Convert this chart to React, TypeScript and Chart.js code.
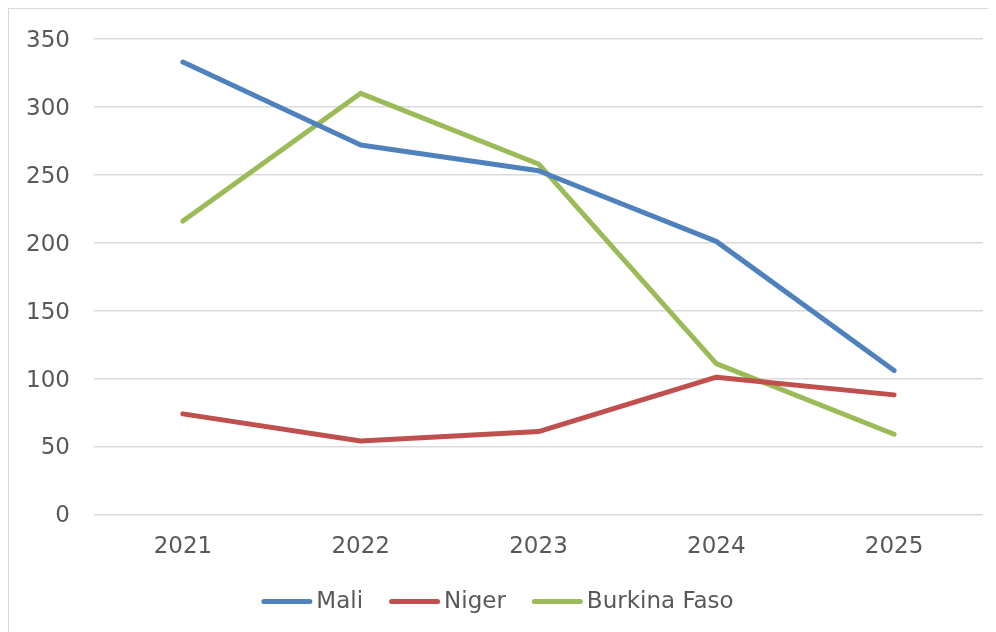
import React, { useEffect, useRef } from "react";
import { Chart, registerables } from "chart.js";

Chart.register(...registerables);

const years = ["2021", "2022", "2023", "2024", "2025"];
const mali = [333, 272, 253, 201, 106];
const niger = [74, 54, 61, 101, 88];
const burkina = [216, 310, 258, 111, 59];
const yTicks = [0, 50, 100, 150, 200, 250, 300, 350];

const FONT = "'DejaVu Sans', Verdana, sans-serif";
const TEXT = "#595959";
const FS = 23;

const legendPlugin = {
  id: "bottomLegend",
  afterDraw(chart: any) {
    const ctx = chart.ctx;
    const items = chart.data.datasets.map((d: any) => ({
      label: d.label as string,
      color: d.borderColor as string,
    }));
    ctx.save();
    ctx.font = `${FS}px ${FONT}`;
    const lineLen = 46;
    const cap = 2.5;
    const gap = 4;
    const spacing = 26;
    const widths = items.map((it: any) => ctx.measureText(it.label).width);
    let total = 0;
    items.forEach((_: any, i: number) => {
      total += lineLen + cap * 2 + gap + widths[i];
      if (i < items.length - 1) total += spacing;
    });
    let x = chart.width / 2 - 5 - total / 2;
    const y = chart.height - 20.5;
    items.forEach((it: any, i: number) => {
      ctx.strokeStyle = it.color;
      ctx.lineWidth = 5;
      ctx.lineCap = "round";
      ctx.beginPath();
      ctx.moveTo(x + cap, y);
      ctx.lineTo(x + cap + lineLen, y);
      ctx.stroke();
      x += lineLen + cap * 2 + gap;
      ctx.fillStyle = TEXT;
      ctx.textAlign = "left";
      ctx.textBaseline = "middle";
      ctx.fillText(it.label, x, y + 1);
      x += widths[i] + spacing;
    });
    ctx.restore();
  },
};

export default function App() {
  const ref = useRef<HTMLCanvasElement | null>(null);

  useEffect(() => {
    if (!ref.current) return;
    const mk = (label: string, data: number[], color: string) => ({
      label,
      data,
      borderColor: color,
      backgroundColor: color,
      borderWidth: 5,
      borderCapStyle: "round" as const,
      borderJoinStyle: "round" as const,
      pointRadius: 0,
      pointHoverRadius: 0,
      tension: 0,
      fill: false,
    });
    const chart = new Chart(ref.current, {
      type: "line",
      data: {
        labels: years,
        datasets: [
          mk("Mali", mali, "#4F81BD"),
          mk("Niger", niger, "#C0504D"),
          mk("Burkina Faso", burkina, "#9BBB59"),
        ],
      },
      plugins: [legendPlugin],
      options: {
        animation: false,
        responsive: false,
        layout: { padding: { left: 0, right: 13, top: 30, bottom: 50 } },
        plugins: {
          tooltip: { enabled: false },
          legend: { display: false },
        },
        scales: {
          x: {
            offset: true,
            grid: { display: false },
            border: { display: false },
            ticks: {
              color: TEXT,
              font: { family: FONT, size: FS },
              padding: 11,
              maxRotation: 0,
            },
          },
          y: {
            min: 0,
            max: 350,
            afterBuildTicks: (scale: any) => {
              scale.ticks = yTicks.map((v) => ({ value: v }));
            },
            afterFit: (scale: any) => {
              scale.width = 85;
              scale.paddingTop = 0;
              scale.paddingBottom = 0;
            },
            grid: { color: "#d9d9d9", lineWidth: 1.5, drawTicks: false },
            border: { display: false },
            ticks: {
              color: TEXT,
              font: { family: FONT, size: FS },
              padding: 24,
              labelOffset: 2,
            },
          },
        },
      },
    });
    return () => chart.destroy();
  }, []);

  return (
    <div
      style={{
        position: "relative",
        width: 1000,
        height: 640,
        border: "1.5px solid #d9d9d9",
        boxSizing: "border-box",
        background: "#fff",
      }}
    >
      <canvas ref={ref} width={987} height={613} style={{ display: "block" }} />
    </div>
  );
}
